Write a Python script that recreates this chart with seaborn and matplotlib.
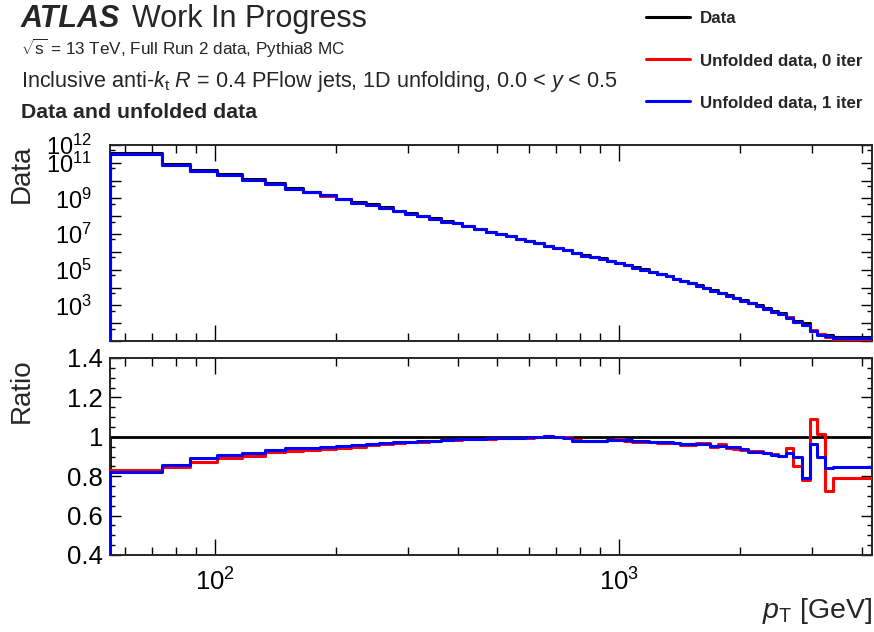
import numpy as np
import matplotlib
matplotlib.use("Agg")
import matplotlib.pyplot as plt
import matplotlib.ticker as mticker
import seaborn as sns

# Jet pT binning [GeV]
pt_edges = [55, 74, 87, 101, 117, 133, 149, 165, 182, 200,
            217, 236, 255, 276, 296, 317, 339, 363, 388, 410,
            439, 469, 497, 526, 557, 587, 618, 654, 689, 726,
            766, 807, 849, 892, 934, 981, 1027, 1080, 1130, 1187,
            1243, 1306, 1362, 1420, 1483, 1550, 1616, 1686, 1760, 1840,
            1918, 2000, 2089, 2183, 2276, 2374, 2480, 2590, 2700, 2834,
            2971, 3097, 3236, 3394, 4233]

# Measured jet yields per bin
data_counts = [3.7e11, 8.5e10, 4.0e10, 2.3e10, 1.2e10, 7.1e9, 3.7e9, 2.4e9, 1.55e9, 9.3e8,
               6.0e8, 4.7e8, 3.2e8, 1.95e8, 1.45e8, 1.02e8, 7.6e7, 5.1e7, 4.0e7, 2.8e7,
               2.0e7, 1.35e7, 1.07e7, 8.3e6, 5.5e6, 4.0e6, 3.0e6, 2.24e6, 1.66e6, 1.23e6,
               8.7e5, 6.3e5, 5.2e5, 4.3e5, 3.2e5, 2.45e5, 1.82e5, 1.35e5, 1.05e5, 7.6e4,
               5.6e4, 4.4e4, 3.2e4, 2.4e4, 1.78e4, 1.32e4, 9.5e3, 7.1e3, 5.0e3, 3.7e3,
               2.6e3, 1.95e3, 1.38e3, 1.02e3, 720, 490, 350, 224, 135, 105,
               36, 25, 23, 17]

# Unfolded / data ratios
ratio_iter0 = [0.830, 0.845, 0.871, 0.891, 0.903, 0.922, 0.930, 0.935, 0.939, 0.943,
               0.950, 0.958, 0.962, 0.970, 0.974, 0.976, 0.977, 0.982, 0.984, 0.987,
               0.988, 0.990, 0.993, 0.994, 0.995, 0.996, 0.998, 1.004, 1.000, 0.997,
               0.984, 0.979, 0.977, 0.978, 0.985, 0.987, 0.980, 0.975, 0.975, 0.973,
               0.970, 0.969, 0.966, 0.960, 0.958, 0.967, 0.967, 0.950, 0.962, 0.945,
               0.937, 0.933, 0.930, 0.929, 0.916, 0.913, 0.903, 0.942, 0.850, 0.780,
               1.092, 1.016, 0.727, 0.791]

ratio_iter1 = [0.820, 0.857, 0.891, 0.906, 0.918, 0.934, 0.942, 0.945, 0.949, 0.952,
               0.960, 0.965, 0.970, 0.974, 0.976, 0.978, 0.979, 0.984, 0.988, 0.990,
               0.991, 0.993, 0.994, 0.995, 0.996, 0.997, 0.998, 1.003, 0.998, 0.993,
               0.981, 0.980, 0.980, 0.981, 0.984, 0.985, 0.984, 0.978, 0.977, 0.976,
               0.974, 0.973, 0.970, 0.964, 0.963, 0.965, 0.962, 0.955, 0.955, 0.950,
               0.947, 0.937, 0.924, 0.924, 0.919, 0.908, 0.903, 0.919, 0.898, 0.790,
               0.965, 0.896, 0.840, 0.848]

series_labels = ["Data", "Unfolded data, 0 iter", "Unfolded data, 1 iter"]
series_colors = ["black", "#ff0000", "#0000ff"]

sns.set_style("ticks")
plt.rcParams["font.family"] = ["Liberation Sans", "DejaVu Sans"]
plt.rcParams["mathtext.fontset"] = "custom"
plt.rcParams["mathtext.rm"] = "Liberation Sans"
plt.rcParams["mathtext.it"] = "Liberation Sans:italic"
plt.rcParams["mathtext.bf"] = "Liberation Sans:bold"
plt.rcParams["axes.linewidth"] = 1.4

edges = np.asarray(pt_edges, dtype=float)
data = np.asarray(data_counts, dtype=float)
unf0 = data * np.asarray(ratio_iter0)
unf1 = data * np.asarray(ratio_iter1)


def draw_hist(ax, values, color, floor, lw=2.2, z=2):
    # histogram outline that rises from the axis floor at the first edge
    xs = np.r_[edges[0], edges]
    ys = np.r_[floor, values, values[-1]]
    sns.lineplot(x=xs, y=ys, drawstyle="steps-post", estimator=None, sort=False,
                 color=color, lw=lw, ax=ax, legend=False, zorder=z)


fig = plt.figure(figsize=(8.74, 6.32), dpi=100)
ax_top = fig.add_axes([110 / 874, 1 - 341 / 632, 762 / 874, 196 / 632])
ax_rat = fig.add_axes([110 / 874, 1 - 555 / 632, 762 / 874, 197 / 632])

for ax in (ax_top, ax_rat):
    ax.set_xscale("log")
ax_top.set_yscale("log")
ymin_top, ymax_top = 10.0, 1e12
ymin_rat, ymax_rat = 0.4, 1.4

draw_hist(ax_top, data, series_colors[0], ymin_top, z=2)
draw_hist(ax_top, unf0, series_colors[1], ymin_top, z=3)
draw_hist(ax_top, unf1, series_colors[2], ymin_top, z=4)

draw_hist(ax_rat, data / data, series_colors[0], ymin_rat, lw=2.0, z=2)
draw_hist(ax_rat, unf0 / data, series_colors[1], ymin_rat, z=3)
draw_hist(ax_rat, unf1 / data, series_colors[2], ymin_rat, z=4)

for ax in (ax_top, ax_rat):
    ax.set_xlim(edges[0], edges[-1])
    ax.xaxis.set_major_locator(mticker.LogLocator(base=10, numticks=10))
    ax.xaxis.set_minor_locator(mticker.LogLocator(base=10, subs=np.arange(2, 10), numticks=20))
    ax.xaxis.set_minor_formatter(mticker.NullFormatter())
    ax.tick_params(which="both", direction="in", top=True, right=True, width=1.0, colors="black")
    ax.tick_params(axis="x", which="major", length=11.5)
    ax.tick_params(axis="x", which="minor", length=5.8)
    ax.tick_params(axis="y", which="major", length=7.6)
    ax.tick_params(axis="y", which="minor", length=3.6)
    ax.set_xlabel("")
    ax.set_ylabel("")

# upper panel axes
ax_top.set_ylim(ymin_top, ymax_top)
decades = [10.0 ** k for k in range(1, 13)]
shown = {3, 5, 7, 9, 11, 12}
ax_top.yaxis.set_major_locator(mticker.FixedLocator(decades))
ax_top.yaxis.set_major_formatter(mticker.FuncFormatter(
    lambda v, p: (r"$10^{%d}$" % round(np.log10(v))) if round(np.log10(v)) in shown else ""))
ax_top.yaxis.set_minor_locator(mticker.FixedLocator([5 * 10.0 ** k for k in range(1, 12)]))
ax_top.yaxis.set_minor_formatter(mticker.NullFormatter())
ax_top.tick_params(axis="x", labelbottom=False)
ax_top.tick_params(axis="y", labelsize=17, pad=13)
ax_top.set_ylabel("Data", fontsize=20, loc="top")
ax_top.yaxis.set_label_coords(-0.099, 1.0)

# ratio panel axes
ax_rat.set_ylim(ymin_rat, ymax_rat)
ax_rat.yaxis.set_major_locator(mticker.MultipleLocator(0.2))
ax_rat.yaxis.set_minor_locator(mticker.MultipleLocator(0.05))
ax_rat.yaxis.set_major_formatter(mticker.FuncFormatter(lambda v, p: "%g" % round(v, 2)))
ax_rat.tick_params(axis="y", labelsize=18.5, pad=5)
ax_rat.tick_params(axis="x", labelsize=18.5, pad=10)
ax_rat.set_ylabel("Ratio", fontsize=20, loc="top")
ax_rat.yaxis.set_label_coords(-0.099, 1.0)
ax_rat.set_xlabel(r"$p_{\mathrm{T}}$ [GeV]", fontsize=20.5, loc="right")
ax_rat.xaxis.set_label_coords(1.0, -0.21)

# header text
fig.text(21 / 874, 1 - 27 / 632, "ATLAS", fontsize=22, fontweight="bold", fontstyle="italic", va="baseline")
fig.text(132 / 874, 1 - 27 / 632, "Work In Progress", fontsize=22, va="baseline")
fig.text(21 / 874, 1 - 55 / 632, r"$\sqrt{\mathrm{s}}$ = 13 TeV, Full Run 2 data, Pythia8 MC",
         fontsize=12.3, va="baseline")
fig.text(21 / 874, 1 - 87 / 632,
         r"Inclusive anti-$k_{\mathrm{t}}$ $R$ = 0.4 PFlow jets, 1D unfolding, 0.0 < $y$ < 0.5",
         fontsize=15.6, va="baseline")
fig.text(21 / 874, 1 - 118 / 632, "Data and unfolded data", fontsize=15.3, fontweight="bold", va="baseline")

handles = ax_top.get_lines()[:3]
fig.legend(handles, series_labels, loc="upper left", bbox_to_anchor=(646 / 874, 1 - 11 / 632),
           frameon=False, prop={"size": 12.2, "weight": "bold"}, handlelength=2.6,
           handletextpad=0.6, labelspacing=1.6, borderpad=0, borderaxespad=0)

fig.savefig("out.png", dpi=100)
